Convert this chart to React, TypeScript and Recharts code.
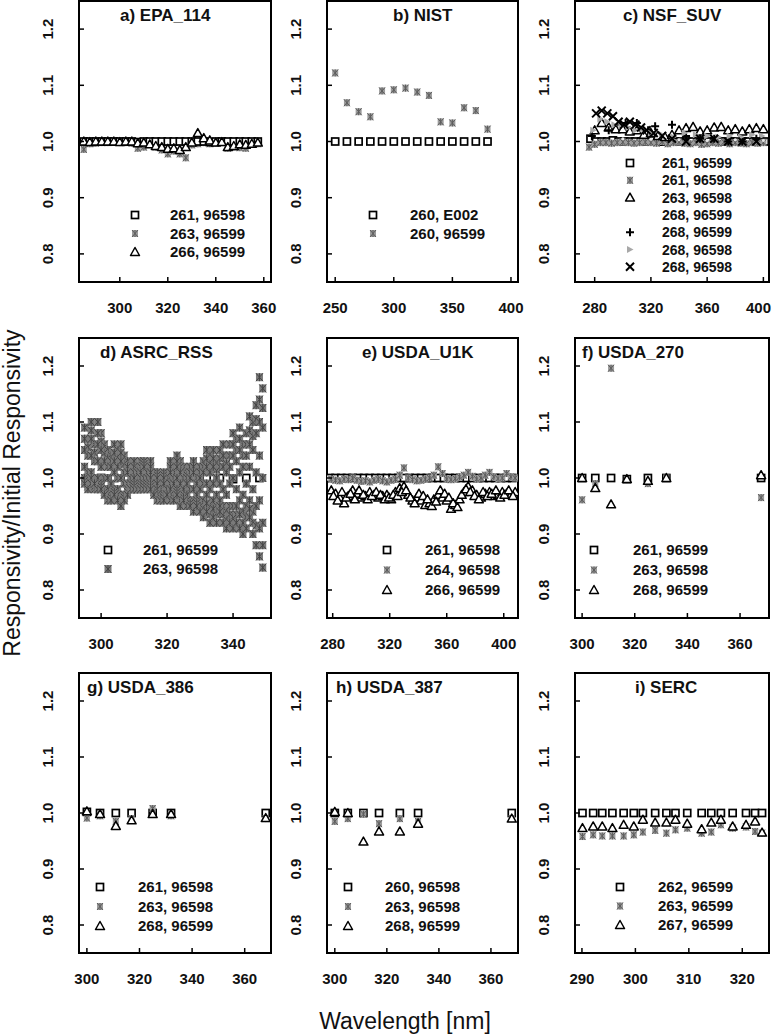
import React from 'react';
import { ReferenceArea, Scatter, ScatterChart, XAxis, YAxis } from 'recharts';

// a) EPA_114
const wlEpa = [285, 287.5, 290, 292.5, 295, 297.5, 300, 302.5, 305, 307.5, 310, 312.5, 315, 317.5, 320, 322.5, 325, 327.5, 330, 332.5, 335, 337.5, 340, 342.5, 345, 347.5, 350, 352.5, 355, 357.5];
const epaSq = [1.0, 1.0, 1.0, 1.0, 1.0, 1.0, 1.0, 1.0, 1.0, 0.999, 1.0, 1.0, 1.0, 1.0, 1.0, 1.0, 1.0, 1.0, 1.0, 1.0, 1.0, 0.999, 1.0, 1.0, 1.0, 1.0, 1.0, 1.0, 1.0, 1.0];
const epaStar = [0.986, 0.996, 0.997, 0.998, 0.998, 0.999, 0.998, 0.998, 0.997, 0.988, 0.99, 0.995, 0.99, 0.985, 0.978, 0.983, 0.978, 0.971, 0.994, 0.996, 0.998, 0.996, 0.997, 0.998, 0.988, 0.99, 0.989, 0.988, 0.995, 0.996];
const epaTri = [1.0, 0.999, 1.0, 1.0, 1.0, 1.0, 0.999, 1.0, 1.0, 0.997, 0.998, 0.995, 0.992, 0.99, 0.987, 0.988, 0.985, 0.99, 0.998, 1.015, 1.006, 1.002, 0.998, 0.999, 0.99, 0.992, 0.995, 0.994, 0.996, 0.998];

// b) NIST
const wlNist = [250, 260, 270, 280, 290, 300, 310, 320, 330, 340, 350, 360, 370, 380];
const nistSq = [1.0, 1.0, 1.0, 1.0, 1.0, 1.0, 1.0, 1.0, 1.0, 1.0, 1.0, 1.0, 1.0, 1.0];
const nistStar = [1.122, 1.069, 1.053, 1.044, 1.09, 1.092, 1.095, 1.088, 1.082, 1.035, 1.033, 1.06, 1.055, 1.022];

// c) NSF_SUV
const wlSuvSq = [277, 281, 285, 289, 293, 297, 301, 305, 309, 313, 317, 321, 325, 329, 333, 337, 341, 345, 349, 353, 357, 361, 365, 369, 373, 377, 381, 385, 389, 393, 397, 401];
const suvSq = [1.005, 1.0, 1.0, 1.0, 1.002, 1.0, 1.0, 1.0, 1.0, 1.0, 1.0, 1.002, 1.0, 1.0, 1.0, 1.0, 1.0, 1.0, 1.0, 1.0, 1.0, 1.0, 1.0, 1.0, 1.0, 1.0, 1.0, 1.0, 1.0, 1.0, 1.0, 1.0];
const wlSuvStar = [276, 280, 284, 288, 292, 296, 300, 304, 308, 312, 316, 320, 324, 328, 332, 336, 340, 344, 348, 352, 356, 360, 364, 368, 372, 376, 380, 384, 388, 392, 396, 400];
const suvStar = [0.99, 0.995, 0.998, 0.998, 0.997, 0.998, 0.999, 0.998, 0.997, 0.998, 0.999, 0.998, 0.997, 1.0, 0.996, 0.998, 0.999, 0.997, 0.996, 0.998, 0.995, 0.996, 0.998, 0.997, 0.999, 0.996, 0.998, 0.997, 0.996, 0.998, 0.997, 0.998];
const wlSuvTri = [280, 285, 290, 295, 300, 305, 310, 315, 320, 325, 330, 335, 340, 345, 350, 355, 360, 365, 370, 375, 380, 385, 390, 395, 400];
const suvTri = [1.02, 1.033, 1.025, 1.022, 1.022, 1.018, 1.02, 1.012, 1.015, 1.01, 1.008, 1.012, 1.02, 1.024, 1.026, 1.018, 1.02, 1.025, 1.026, 1.02, 1.022, 1.018, 1.022, 1.024, 1.022];
const wlSuvFaint = [300, 320, 340, 360, 380, 400];
const suvFaint = [1.005, 1.004, 1.003, 1.002, 1.003, 1.002];
const wlSuvPlus = [278, 290, 298, 302, 310, 318, 323, 335, 345, 355, 365, 375, 385, 395];
const suvPlus = [1.01, 1.02, 1.03, 1.033, 1.033, 1.02, 1.027, 1.03, 1.01, 1.005, 1.005, 1.0, 1.0, 1.005];
const wlSuvArrow = [279, 284, 289, 294, 299, 304, 309, 314, 320, 328, 336, 344, 352, 360, 368, 376, 384, 392, 399];
const suvArrow = [1.02, 1.04, 1.035, 1.03, 1.028, 1.025, 1.02, 1.022, 1.015, 1.012, 1.008, 1.015, 1.012, 1.01, 1.008, 1.01, 1.008, 1.012, 1.01];
const wlSuvX = [281, 285, 289, 293, 297, 301, 305, 309, 313, 317, 322, 328, 335, 345, 355, 365, 375, 385, 395];
const suvX = [1.05, 1.055, 1.05, 1.045, 1.035, 1.03, 1.035, 1.03, 1.025, 1.02, 1.015, 1.01, 1.005, 1.0, 1.005, 1.005, 1.0, 1.0, 1.0];

// d) ASRC_RSS (several scans per wavelength)
const wlAsrcSq = [296, 300, 304, 308, 312, 316, 320, 324, 328, 332, 336, 340, 344, 348];
const asrcSq = [1.0, 1.0, 1.0, 0.998, 1.0, 1.0, 1.0, 1.0, 1.0, 1.0, 1.0, 0.998, 1.0, 1.0];
const wlAsrc = [
  295, 296, 297, 298, 299, 300, 301, 302, 303, 304, 305, 306, 307, 308, 309, 310, 311, 312, 313, 314,
  315, 316, 317, 318, 319, 320, 321, 322, 323, 324, 325, 326, 327, 328, 329, 330, 331, 332, 333, 334,
  335, 336, 337, 338, 339, 340, 341, 342, 343, 344, 345, 346, 347, 348, 349
];
const asrcR1 = [
  1.09, 1.07, 1.1, 1.06, 1.1, 1.08, 1.06, 1.05, 1.04, 1.06, 1.05, 1.06, 1.04, 1.03, 1.02, 1.03, 1.02, 1.03, 1.03, 1.02,
  1.03, 1.01, 1.01, 1.0, 1.01, 1.0, 1.03, 1.02, 1.04, 1.03, 1.02, 1.01, 1.02, 1.03, 1.01, 1.02, 1.03, 1.05, 1.04, 1.05,
  1.03, 1.05, 1.06, 1.04, 1.06, 1.08, 1.07, 1.09, 1.06, 1.08, 1.11, 1.1, 1.13, 1.18, 1.16
];
const asrcR6 = [
  1.07, 1.055, 1.085, 1.045, 1.08, 1.065, 1.045, 1.035, 1.03, 1.045, 1.035, 1.045, 1.025, 1.02, 1.01, 1.02, 1.015, 1.02, 1.025, 1.015,
  1.02, 1.005, 1.005, 0.995, 1.005, 0.995, 1.02, 1.01, 1.03, 1.02, 1.01, 1.005, 1.01, 1.02, 1.0, 1.01, 1.02, 1.035, 1.025, 1.035,
  1.015, 1.035, 1.04, 1.025, 1.04, 1.06, 1.05, 1.07, 1.04, 1.06, 1.085, 1.075, 1.105, 1.14, 1.125
];
const asrcR2 = [
  1.05, 1.04, 1.07, 1.03, 1.06, 1.05, 1.03, 1.02, 1.02, 1.03, 1.02, 1.03, 1.01, 1.01, 1.0, 1.01, 1.01, 1.01, 1.02, 1.01,
  1.01, 1.0, 1.0, 0.99, 1.0, 0.99, 1.01, 1.0, 1.02, 1.01, 1.0, 1.0, 1.0, 1.01, 0.99, 1.0, 1.01, 1.02, 1.01, 1.02,
  1.0, 1.02, 1.02, 1.01, 1.02, 1.04, 1.03, 1.05, 1.02, 1.04, 1.06, 1.05, 1.08, 1.1, 1.09
];
const asrcR3 = [
  1.02, 1.01, 1.04, 1.0, 1.03, 1.02, 1.0, 1.0, 0.99, 1.01, 1.0, 1.0, 0.99, 0.99, 0.99, 1.0, 0.99, 1.0, 1.0, 1.0,
  1.0, 0.99, 0.99, 0.98, 0.99, 0.98, 0.99, 0.99, 1.0, 0.99, 0.98, 0.99, 0.98, 0.98, 0.97, 0.98, 0.99, 0.99, 0.98, 0.99,
  0.97, 0.99, 0.98, 0.97, 0.99, 1.0, 0.98, 1.01, 0.97, 0.99, 1.02, 0.98, 1.01, 1.04, 1.0
];
const asrcR4 = [
  1.0, 0.99, 1.01, 0.98, 1.0, 0.99, 0.98, 0.98, 0.97, 0.98, 0.98, 0.97, 0.97, 0.98, 0.98, 0.99, 0.98, 0.99, 0.99, 0.99,
  0.99, 0.98, 0.98, 0.97, 0.97, 0.97, 0.98, 0.97, 0.98, 0.97, 0.97, 0.97, 0.96, 0.96, 0.96, 0.96, 0.96, 0.97, 0.95, 0.96,
  0.95, 0.96, 0.95, 0.94, 0.95, 0.95, 0.95, 0.96, 0.94, 0.95, 0.96, 0.94, 0.95, 0.96, 0.92
];
const asrcR7 = [
  0.995, 0.985, 1.0, 0.985, 0.99, 0.985, 0.975, 0.97, 0.965, 0.975, 0.97, 0.96, 0.965, 0.975, 0.98, 0.985, 0.98, 0.985, 0.985, 0.985,
  0.985, 0.975, 0.97, 0.965, 0.965, 0.97, 0.97, 0.965, 0.975, 0.96, 0.965, 0.96, 0.955, 0.95, 0.955, 0.95, 0.945, 0.955, 0.935, 0.945,
  0.935, 0.95, 0.935, 0.925, 0.935, 0.93, 0.935, 0.935, 0.92, 0.93, 0.945, 0.92, 0.915, 0.91, 0.88
];
const asrcR5 = [
  0.99, 0.98, 0.99, 0.99, 0.98, 0.98, 0.97, 0.96, 0.96, 0.97, 0.96, 0.95, 0.96, 0.97, 0.98, 0.98, 0.98, 0.98, 0.98, 0.98,
  0.98, 0.97, 0.96, 0.96, 0.96, 0.97, 0.96, 0.96, 0.97, 0.95, 0.96, 0.95, 0.95, 0.94, 0.95, 0.94, 0.93, 0.94, 0.92, 0.93,
  0.92, 0.94, 0.92, 0.91, 0.92, 0.91, 0.92, 0.91, 0.9, 0.91, 0.93, 0.9, 0.88, 0.86, 0.84
];

// e) USDA_U1K
const wlU1kSq = [278, 282, 286, 290, 294, 298, 302, 306, 310, 314, 318, 322, 326, 330, 334, 338, 342, 346, 350, 354, 358, 362, 366, 370, 374, 378, 382, 386, 390, 394, 398, 402, 406];
const u1kSq = [1.0, 1.0, 1.0, 1.0, 1.0, 1.0, 1.0, 1.0, 1.0, 1.0, 1.0, 1.0, 1.0, 1.0, 1.0, 1.0, 1.0, 1.0, 1.0, 1.0, 1.0, 1.0, 1.0, 1.0, 1.0, 1.0, 1.0, 1.0, 1.0, 1.0, 1.0, 1.0, 1.0];
const wlU1k = [279, 282, 285, 288, 291, 294, 297, 300, 303, 306, 309, 312, 315, 318, 321, 324, 327, 330, 333, 336, 339, 342, 345, 348, 351, 354, 357, 360, 363, 366, 369, 372, 375, 378, 381, 384, 387, 390, 393, 396, 399, 402, 405, 408];
const u1kStar = [0.998, 0.996, 0.995, 0.998, 0.997, 1.0, 0.996, 0.994, 0.995, 0.993, 0.996, 0.998, 0.995, 0.993, 0.996, 0.998, 1.005, 1.018, 1.0, 0.997, 0.995, 0.996, 0.998, 1.0, 1.005, 1.02, 1.008, 0.998, 0.997, 0.999, 1.002, 1.005, 1.01, 1.003, 0.998, 1.0, 1.005, 1.01, 1.002, 0.999, 1.0, 1.008, 1.002, 1.0];
const u1kTri = [0.978, 0.972, 0.965, 0.955, 0.968, 0.978, 0.972, 0.965, 0.968, 0.975, 0.97, 0.965, 0.968, 0.97, 0.962, 0.975, 0.982, 0.985, 0.97, 0.96, 0.965, 0.96, 0.952, 0.955, 0.962, 0.97, 0.965, 0.96, 0.945, 0.952, 0.962, 0.975, 0.985, 0.978, 0.97, 0.965, 0.972, 0.975, 0.968, 0.97, 0.975, 0.972, 0.97, 0.975];
const wlU1kB = [280.5, 283.5, 286.5, 289.5, 292.5, 295.5, 298.5, 301.5, 304.5, 307.5, 310.5, 313.5, 316.5, 319.5, 322.5, 325.5, 328.5, 331.5, 334.5, 337.5, 340.5, 343.5, 346.5, 349.5, 352.5, 355.5, 358.5, 361.5, 364.5, 367.5, 370.5, 373.5, 376.5, 379.5, 382.5, 385.5, 388.5, 391.5, 394.5, 397.5, 400.5, 403.5, 406.5];
const u1kTriB = [0.968, 0.96, 0.975, 0.965, 0.972, 0.962, 0.978, 0.97, 0.962, 0.968, 0.975, 0.97, 0.962, 0.965, 0.97, 0.968, 0.975, 0.978, 0.965, 0.955, 0.972, 0.968, 0.962, 0.95, 0.958, 0.978, 0.972, 0.965, 0.955, 0.948, 0.97, 0.98, 0.975, 0.968, 0.962, 0.975, 0.968, 0.972, 0.978, 0.965, 0.97, 0.978, 0.968];

// f), g), h) USDA filter radiometer channels
const wlUsda = [300, 305, 311, 317, 325, 332, 368];
const u270Sq = [1.0, 1.0, 1.0, 0.998, 1.0, 1.0, 1.0];
const u270Star = [0.961, 0.99, 1.196, 0.997, 0.99, 1.0, 0.965];
const u270Tri = [1.0, 0.982, 0.953, 0.998, 0.995, 1.0, 1.005];
const u386Sq = [1.002, 1.0, 1.0, 1.0, 1.0, 1.0, 1.0];
const u386Star = [0.991, 0.995, 0.985, 0.99, 1.008, 0.995, 0.99];
const u386Tri = [1.003, 0.998, 0.977, 0.987, 0.998, 0.998, 0.991];
const u387Sq = [1.0, 1.0, 1.0, 1.0, 1.0, 1.0, 1.0];
const u387Star = [0.985, 0.99, 0.998, 0.981, 0.99, 0.985, 0.99];
const u387Tri = [1.002, 1.0, 0.949, 0.967, 0.967, 0.981, 0.99];

// i) SERC
const wlSerc = [290.1, 292.1, 293.8, 295.7, 297.8, 299.7, 301.4, 303.7, 305.8, 307.5, 309.7, 312.4, 314.2, 316, 318.2, 320.7, 322.4, 323.7];
const sercSq = [1.0, 1.0, 1.0, 1.0, 1.0, 1.0, 1.0, 1.0, 1.0, 1.0, 1.0, 1.0, 1.0, 1.0, 1.0, 1.0, 1.0, 1.0];
const sercStar = [0.958, 0.961, 0.959, 0.959, 0.959, 0.961, 0.966, 0.969, 0.964, 0.97, 0.973, 0.964, 0.966, 0.979, 0.973, 0.975, 0.967, 0.964];
const sercTri = [0.973, 0.976, 0.976, 0.973, 0.979, 0.976, 0.988, 0.983, 0.983, 0.988, 0.981, 0.971, 0.983, 0.988, 0.976, 0.979, 0.985, 0.965];

const Y_TICKS = [0.8, 0.9, 1.0, 1.1, 1.2];
const FONT = "'Liberation Sans', Arial, Helvetica, sans-serif";
const PAGE_W = 772;

type Kind = 'square' | 'star' | 'starDark' | 'triangle' | 'plus' | 'cross' | 'arrow' | 'faint';
type Pt = { x: number; y: number };
type Series = { name: string; kind: Kind; data: Pt[] };

const pts = (xs: number[], ys: number[]): Pt[] => xs.map((x, i) => ({ x, y: ys[i] }));

const Marker = ({ kind, cx, cy }: { kind: Kind; cx: number; cy: number }) => {
  switch (kind) {
    case 'square':
      return <rect x={cx - 3.5} y={cy - 3.5} width={7} height={7} fill="#fff" stroke="#000" strokeWidth={1.7} />;
    case 'star':
    case 'starDark': {
      const dark = kind === 'starDark';
      const w = dark ? 3.5 : 3;
      const h = dark ? 4 : 3.5;
      return (
        <g>
          <rect x={cx - w} y={cy - h} width={2 * w} height={2 * h} fill={dark ? '#7a7a7a' : '#9c9c9c'} />
          <path
            d={`M${cx - w} ${cy - h}L${cx + w} ${cy + h}M${cx + w} ${cy - h}L${cx - w} ${cy + h}M${cx} ${cy - h}V${cy + h}`}
            stroke={dark ? '#444' : '#5c5c5c'}
            strokeWidth={1}
          />
        </g>
      );
    }
    case 'triangle':
      return <path d={`M${cx} ${cy - 4.5}L${cx + 4.5} ${cy + 3.5}H${cx - 4.5}Z`} fill="#fff" stroke="#000" strokeWidth={1.5} strokeLinejoin="round" />;
    case 'plus':
      return <path d={`M${cx - 4} ${cy}H${cx + 4}M${cx} ${cy - 4}V${cy + 4}`} stroke="#000" strokeWidth={2} />;
    case 'cross':
      return <path d={`M${cx - 4} ${cy - 4}L${cx + 4} ${cy + 4}M${cx + 4} ${cy - 4}L${cx - 4} ${cy + 4}`} stroke="#000" strokeWidth={2} />;
    case 'arrow':
      return <path d={`M${cx - 3} ${cy - 3.5}L${cx + 3.5} ${cy}L${cx - 3} ${cy + 3.5}Z`} fill="#a8a8a8" />;
    default:
      return <circle cx={cx} cy={cy} r={1.5} fill="#e6e6e6" />;
  }
};

type Panel = {
  id: string;
  title: string;
  titleDx: number;
  col: number;
  row: number;
  domain: [number, number];
  ticks: number[];
  series: Series[]; // legend order
  draw: number[]; // drawing order
  legend: { symX: number; textX: number; y0: number; dy: number; size: number };
};

const COLS = [
  { left: 79, width: 192 },
  { left: 327, width: 191 },
  { left: 575, width: 194 }
];
const ROWS = [
  { top: 1, height: 281 },
  { top: 338, height: 280 },
  { top: 673, height: 280 }
];

const PANELS: Panel[] = [
  {
    id: 'a', title: 'a) EPA_114', titleDx: 41, col: 0, row: 0, domain: [283, 363], ticks: [300, 320, 340, 360],
    series: [
      { name: '261, 96598', kind: 'square', data: pts(wlEpa, epaSq) },
      { name: '263, 96599', kind: 'star', data: pts(wlEpa, epaStar) },
      { name: '266, 96599', kind: 'triangle', data: pts(wlEpa, epaTri) }
    ],
    draw: [1, 0, 2],
    legend: { symX: 135, textX: 170, y0: 215, dy: 18.5, size: 15 }
  },
  {
    id: 'b', title: 'b) NIST', titleDx: 66, col: 1, row: 0, domain: [243, 406], ticks: [250, 300, 350, 400],
    series: [
      { name: '260, E002', kind: 'square', data: pts(wlNist, nistSq) },
      { name: '260, 96599', kind: 'star', data: pts(wlNist, nistStar) }
    ],
    draw: [0, 1],
    legend: { symX: 373, textX: 410, y0: 215, dy: 18.5, size: 15 }
  },
  {
    id: 'c', title: 'c) NSF_SUV', titleDx: 48, col: 2, row: 0, domain: [266, 404], ticks: [280, 320, 360, 400],
    series: [
      { name: '261, 96599', kind: 'square', data: pts(wlSuvSq, suvSq) },
      { name: '261, 96598', kind: 'star', data: pts(wlSuvStar, suvStar) },
      { name: '263, 96598', kind: 'triangle', data: pts(wlSuvTri, suvTri) },
      { name: '268, 96599', kind: 'faint', data: pts(wlSuvFaint, suvFaint) },
      { name: '268, 96599', kind: 'plus', data: pts(wlSuvPlus, suvPlus) },
      { name: '268, 96598', kind: 'arrow', data: pts(wlSuvArrow, suvArrow) },
      { name: '268, 96598', kind: 'cross', data: pts(wlSuvX, suvX) }
    ],
    draw: [0, 1, 2, 3, 4, 5, 6],
    legend: { symX: 630, textX: 662, y0: 163, dy: 17.3, size: 14 }
  },
  {
    id: 'd', title: 'd) ASRC_RSS', titleDx: 21, col: 0, row: 1, domain: [293.3, 351.5], ticks: [300, 320, 340],
    series: [
      { name: '261, 96599', kind: 'square', data: pts(wlAsrcSq, asrcSq) },
      {
        name: '263, 96598', kind: 'starDark',
        data: [
          ...pts(wlAsrc, asrcR1), ...pts(wlAsrc, asrcR6), ...pts(wlAsrc, asrcR2), ...pts(wlAsrc, asrcR3),
          ...pts(wlAsrc, asrcR4), ...pts(wlAsrc, asrcR7), ...pts(wlAsrc, asrcR5)
        ]
      }
    ],
    draw: [0, 1],
    legend: { symX: 108, textX: 143, y0: 550, dy: 19, size: 15 }
  },
  {
    id: 'e', title: 'e) USDA_U1K', titleDx: 35, col: 1, row: 1, domain: [276, 410], ticks: [280, 320, 360, 400],
    series: [
      { name: '261, 96598', kind: 'square', data: pts(wlU1kSq, u1kSq) },
      { name: '264, 96598', kind: 'star', data: pts(wlU1k, u1kStar) },
      { name: '266, 96599', kind: 'triangle', data: [...pts(wlU1k, u1kTri), ...pts(wlU1kB, u1kTriB)] }
    ],
    draw: [0, 1, 2],
    legend: { symX: 387, textX: 425, y0: 550, dy: 20, size: 15 }
  },
  {
    id: 'f', title: 'f) USDA_270', titleDx: 7, col: 2, row: 1, domain: [297.3, 371], ticks: [300, 320, 340, 360],
    series: [
      { name: '261, 96599', kind: 'square', data: pts(wlUsda, u270Sq) },
      { name: '263, 96598', kind: 'star', data: pts(wlUsda, u270Star) },
      { name: '268, 96599', kind: 'triangle', data: pts(wlUsda, u270Tri) }
    ],
    draw: [0, 1, 2],
    legend: { symX: 594, textX: 633, y0: 550, dy: 20, size: 15 }
  },
  {
    id: 'g', title: 'g) USDA_386', titleDx: 8, col: 0, row: 2, domain: [297, 370], ticks: [300, 320, 340, 360],
    series: [
      { name: '261, 96598', kind: 'square', data: pts(wlUsda, u386Sq) },
      { name: '263, 96598', kind: 'star', data: pts(wlUsda, u386Star) },
      { name: '268, 96599', kind: 'triangle', data: pts(wlUsda, u386Tri) }
    ],
    draw: [0, 1, 2],
    legend: { symX: 100, textX: 138, y0: 887, dy: 19.5, size: 15 }
  },
  {
    id: 'h', title: 'h) USDA_387', titleDx: 9, col: 1, row: 2, domain: [297, 370.4], ticks: [300, 320, 340, 360],
    series: [
      { name: '260, 96598', kind: 'square', data: pts(wlUsda, u387Sq) },
      { name: '263, 96598', kind: 'star', data: pts(wlUsda, u387Star) },
      { name: '268, 96599', kind: 'triangle', data: pts(wlUsda, u387Tri) }
    ],
    draw: [0, 1, 2],
    legend: { symX: 348, textX: 385, y0: 887, dy: 19.5, size: 15 }
  },
  {
    id: 'i', title: 'i) SERC', titleDx: 60, col: 2, row: 2, domain: [288.7, 325], ticks: [290, 300, 310, 320],
    series: [
      { name: '262, 96599', kind: 'square', data: pts(wlSerc, sercSq) },
      { name: '263, 96599', kind: 'star', data: pts(wlSerc, sercStar) },
      { name: '267, 96599', kind: 'triangle', data: pts(wlSerc, sercTri) }
    ],
    draw: [0, 1, 2],
    legend: { symX: 620, textX: 658, y0: 887, dy: 19, size: 15 }
  }
];

const AXIS_W = 60;
const MARGIN_T = 6;
const MARGIN_R = 18;
const AXIS_H = 40;

// chartLeft: page x of the chart's svg, used to keep the last label inside the page
const XTick = (props: any) => {
  const { x, y, payload, chartLeft } = props;
  const tooFar = chartLeft + x + 13 > PAGE_W;
  return (
    <g>
      <line x1={x} y1={y} x2={x} y2={y - 5} stroke="#000" strokeWidth={1.5} />
      <text
        x={tooFar ? PAGE_W - chartLeft - 1 : x}
        y={y + 31}
        textAnchor={tooFar ? 'end' : 'middle'}
        fontSize={15}
        fontWeight="bold"
        fontFamily={FONT}
        fill="#111"
      >
        {payload.value}
      </text>
    </g>
  );
};

const YTick = (props: any) => {
  const { x, y, payload } = props;
  const lx = x - 26;
  return (
    <g>
      <line x1={x} y1={y} x2={x + 5} y2={y} stroke="#000" strokeWidth={1.5} />
      <text x={lx} y={y} transform={`rotate(-90, ${lx}, ${y})`} textAnchor="middle" fontSize={15} fontWeight="bold" fontFamily={FONT} fill="#111">
        {Number(payload.value).toFixed(1)}
      </text>
    </g>
  );
};

const PanelChart = ({ p }: { p: Panel }) => {
  const col = COLS[p.col];
  const row = ROWS[p.row];
  const chartLeft = col.left - AXIS_W;
  return (
    <div style={{ position: 'absolute', left: chartLeft, top: row.top - MARGIN_T }}>
      <ScatterChart
        width={col.width + AXIS_W + MARGIN_R}
        height={row.height + MARGIN_T + AXIS_H}
        margin={{ top: MARGIN_T, right: MARGIN_R, bottom: 0, left: 0 }}
      >
        <XAxis
          type="number"
          dataKey="x"
          domain={p.domain}
          ticks={p.ticks}
          allowDataOverflow
          interval={0}
          axisLine={false}
          tickLine={false}
          tickSize={0}
          tickMargin={0}
          height={AXIS_H}
          tick={(t: any) => <XTick {...t} chartLeft={chartLeft} />}
        />
        <YAxis
          type="number"
          dataKey="y"
          domain={[0.75, 1.25]}
          ticks={Y_TICKS}
          allowDataOverflow
          interval={0}
          axisLine={false}
          tickLine={false}
          tickSize={0}
          tickMargin={0}
          width={AXIS_W}
          tick={(t: any) => <YTick {...t} />}
        />
        {p.draw.map((i) => {
          const s = p.series[i];
          return (
            <Scatter
              key={`${p.id}-${i}`}
              name={s.name}
              data={s.data}
              isAnimationActive={false}
              shape={(sp: any) => <Marker kind={s.kind} cx={sp.cx} cy={sp.cy} />}
            />
          );
        })}
        <ReferenceArea
          x1={p.domain[0]}
          x2={p.domain[1]}
          y1={0.75}
          y2={1.25}
          fill="none"
          stroke="#000"
          strokeWidth={2}
          ifOverflow="visible"
        />
      </ScatterChart>
    </div>
  );
};

const Overlay = () => (
  <svg width={PAGE_W} height={1035} style={{ position: 'absolute', left: 0, top: 0, pointerEvents: 'none' }}>
    {PANELS.map((p) => (
      <g key={p.id} fontFamily={FONT}>
        <text x={COLS[p.col].left + p.titleDx} y={ROWS[p.row].top + 20} fontSize={17} fontWeight="bold" fill="#111">
          {p.title}
        </text>
        {p.series.map((s, i) => {
          const cy = p.legend.y0 + i * p.legend.dy;
          return (
            <g key={i}>
              {s.kind !== 'faint' && <Marker kind={s.kind} cx={p.legend.symX} cy={cy} />}
              <text x={p.legend.textX} y={cy + 5} fontSize={p.legend.size} fontWeight="bold" fill="#111">
                {s.name}
              </text>
            </g>
          );
        })}
      </g>
    ))}
    <text x={20} y={493} transform="rotate(-90, 20, 493)" textAnchor="middle" fontSize={23} fontFamily={FONT} fill="#111">
      Responsivity/Initial Responsivity
    </text>
    <text x={405} y={1029} textAnchor="middle" fontSize={23} fontFamily={FONT} fill="#111">
      Wavelength [nm]
    </text>
  </svg>
);

export default function App() {
  return (
    <div style={{ position: 'absolute', left: 0, top: 0, width: PAGE_W, height: 1035, overflow: 'hidden', background: '#fff' }}>
      {PANELS.map((p) => (
        <PanelChart key={p.id} p={p} />
      ))}
      <Overlay />
    </div>
  );
}
